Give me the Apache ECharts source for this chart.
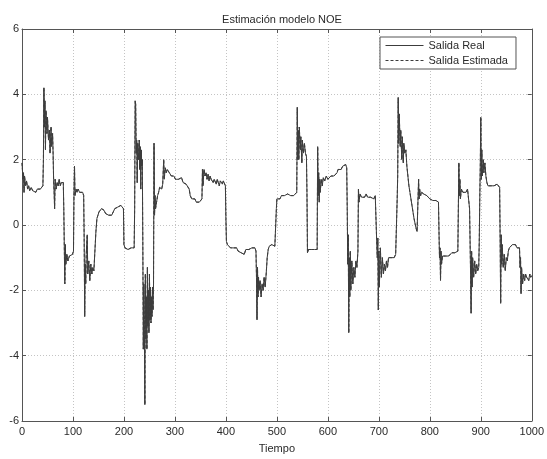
<!DOCTYPE html>
<html>
<head>
<meta charset="utf-8">
<script src="https://cdn.jsdelivr.net/npm/echarts@6/dist/echarts.min.js"></script>
<style>
html,body{margin:0;padding:0;background:#fff;}
#chart{width:547px;height:459px;}
</style>
</head>
<body>
<div id="chart"></div>
<script>
const titulo = "Estimación modelo NOE";
const nombreX = "Tiempo";
const nombresSerie = ["Salida Real", "Salida Estimada"];
const xTicks = [0, 100, 200, 300, 400, 500, 600, 700, 800, 900, 1000];
const yTicks = [-6, -4, -2, 0, 2, 4, 6];

// [tiempo, valor]
const tramo1 = [[0,1.9],[2,1.4],[3,1.6],[4,1.0],[5,1.5],[7,1.2],[9,1.35],[11,1.1],[13,1.2],[15,1.05],[18,1.15],[21,1.05],[24,1.1],[27,1.0],[30,1.1],[33,1.05],[36,1.1],[39,1.1],[41,1.2],[42,2.0],[43,4.2],[44,3.0],[45,3.8],[46,2.3],[47,3.5],[49,2.8],[50,3.3],[52,2.6],[54,2.9],[55,2.2],[57,3.0],[58,2.4],[60,2.8],[61,2.2],[62,1.4],[63,1.0],[64,0.5],[65,1.4],[67,1.1],[69,1.3],[71,1.2],[73,1.4],[75,1.2],[77,1.3],[79,1.25],[81,1.3],[82,0.5],[83,-0.7],[84,-1.8],[85,-0.6],[86,-1.2],[88,-0.9],[90,-1.1],[93,-0.95],[96,-1.0],[99,-0.9],[101,-0.8],[102,1.0],[103,1.8],[104,0.9],[106,1.1],[108,1.0],[110,1.1],[113,1.0],[116,1.05],[119,1.0],[121,0.9],
[122,-0.5],[123,-2.8],[124,-1.2],[125,-1.8],[126,-0.9],[128,-0.3],[129,-1.5],[131,-1.1],[133,-1.7],[135,-1.2],[137,-1.5],[139,-1.3],[141,-1.4],[143,-0.8],[145,-0.2],[147,0.2],[149,0.3],[151,0.4],[153,0.45],[156,0.5],[159,0.5],[161,0.45],[164,0.35],[167,0.4],[170,0.3],[173,0.35],[176,0.3],[179,0.4],[182,0.5],[185,0.45],[188,0.55],[191,0.5],[194,0.6],[197,0.6],[199,0.5]];
const tramo2 = [[200,-0.6],[202,-0.7],[205,-0.65],[208,-0.75],[211,-0.7],[214,-0.7],[217,-0.75],[220,-0.7],[221,0.5],[222,3.8],[223,3.7],[224,2.2],[225,2.6],[226,1.3],[227,2.5],[229,2.0],[230,2.6],[231,1.7],[232,2.4],[233,1.1],[234,2.3],[235,1.8],[236,2.0],[237,-0.5],[238,-3.8],[239,-1.8],[240,-2.9],[241,-5.5],[242,-1.5],[243,-3.5],[244,-2.2],[245,-3.8],[246,-1.3],[247,-3.1],[248,-2.0],[249,-3.3],[250,-1.5],[251,-2.9],[252,-1.9],[253,-3.0],[254,-2.2],[255,-2.8],[256,-1.9],[257,-2.6],[258,-1.8],[259,2.5],[260,0.3],[261,0.9],[262,0.5],[264,0.7],[266,0.9],[268,1.0],[270,1.15],[272,1.2],[274,1.1],[276,1.25],[278,2.0],[279,1.4],[281,1.75],[283,1.6],[285,1.7],[287,1.65],[289,1.6],[291,1.55],[293,1.5],[295,1.45],[298,1.5],[301,1.4],[304,1.45],[307,1.4],[310,1.35],[313,1.45],[316,1.3],[319,1.35],[322,1.25],[325,1.3],[328,1.1],[330,0.9],[333,0.8],[336,0.75],[339,0.8],[342,0.7],[345,0.75],[348,0.7],[351,0.75],[353,0.8],[354,1.7],[355,1.2],[357,1.7],[359,1.5],[361,1.6],[363,1.4],[365,1.55],[367,1.35],[369,1.5],[371,1.4],[373,1.45],[375,1.3],[377,1.4],[379,1.35],[381,1.25],[383,1.4],[385,1.3],[387,1.2],[389,1.35],[391,1.3],[393,1.25],[395,1.35],[397,1.3],[399,1.2]];
const tramo3 = [[400,0.2],[401,-0.5],[403,-0.6],[406,-0.65],[409,-0.7],[412,-0.65],[415,-0.7],[418,-0.75],[421,-0.7],[424,-0.8],[427,-0.75],[430,-0.85],[433,-0.8],[436,-0.9],[439,-0.75],[442,-0.7],[445,-0.75],[448,-0.7],[451,-0.7],[454,-0.75],[457,-0.7],[459,-0.8],[460,-1.6],[461,-2.9],[462,-1.3],[463,-2.2],[464,-1.6],[465,-2.0],[467,-1.7],[469,-2.2],[471,-1.8],[473,-2.0],[475,-1.6],[477,-1.9],[479,-1.5],[481,-1.0],[483,-0.75],[485,-0.65],[487,-0.6],[490,-0.6],[493,-0.55],[496,-0.65],[498,-0.6],[499,0.5],[500,0.8],[503,0.85],[506,0.8],[509,0.9],[512,0.85],[515,0.9],[518,0.85],[521,0.95],[524,0.9],[527,0.9],[530,0.95],[533,0.9],[536,0.95],[539,1.0],[540,3.6],[541,2.0],[542,2.9],[543,2.0],[544,3.0],[546,2.3],[547,2.7],[549,1.9],[550,2.6],[552,2.2],[554,2.5],[556,2.2],[558,2.1],[559,1.0],[560,-0.85],[562,-0.75],[565,-0.8],[568,-0.75],[571,-0.7],[574,-0.75],[577,-0.7],[579,-0.75],[580,2.4],[581,0.9],[582,1.6],[583,0.7],[584,1.4],[585,1.0],[587,1.4],[589,1.2],[591,1.45],[594,1.35],[597,1.5]];
const tramo4 = [[600,1.4],[603,1.45],[606,1.5],[609,1.45],[612,1.5],[615,1.55],[618,1.6],[620,1.7],[623,1.75],[626,1.7],[629,1.8],[632,1.75],[635,1.85],[637,1.75],[638,0.5],[639,-1.2],[640,-0.3],[641,-3.3],[642,-1.0],[643,-2.2],[644,-0.8],[645,-2.0],[647,-1.1],[649,-1.8],[651,-1.3],[653,-1.6],[655,-1.1],[657,-1.3],[659,-0.8],[660,1.1],[661,0.7],[663,0.95],[666,0.85],[669,0.9],[672,0.85],[675,0.95],[678,0.85],[681,0.9],[684,0.85],[687,0.9],[690,0.8],[693,0.9],[695,0.85],[696,-0.6],[697,-1.0],[698,-0.4],[699,-2.6],[700,-0.8],[701,-1.9],[703,-0.7],[705,-1.6],[707,-1.0],[709,-1.5],[711,-1.2],[713,-1.4],[715,-1.1],[717,-1.3],[719,-1.0],[721,-0.95],[724,-1.0],[727,-0.95],[730,-1.0],[733,-0.9],[735,-0.95],[736,0.8],[737,1.5],[738,3.9],[739,2.5],[740,3.4],[742,2.4],[743,2.9],[745,2.0],[746,2.7],[748,1.9],[749,2.5],[751,2.2],[753,2.3],[755,1.8],[757,1.5],[759,1.2],[761,1.0],[763,0.8],[765,0.6],[767,0.4],[769,0.2],[771,0.05],[773,-0.1],[775,-0.2],[777,-0.2],[778,1.4],[779,0.8],[780,1.1],[782,0.9],[784,1.0],[786,1.0],[788,0.95],[791,0.9],[794,0.9],[797,0.85]];
const tramo5 = [[800,0.8],[803,0.8],[806,0.75],[809,0.75],[812,0.75],[815,0.8],[817,0.7],[818,-0.2],[819,-1.0],[820,-0.7],[821,-1.7],[822,-0.8],[823,-1.2],[825,-0.95],[828,-1.0],[831,-0.95],[834,-0.9],[837,-0.95],[840,-0.9],[843,-0.85],[846,-0.9],[849,-0.85],[852,-0.9],[855,-0.8],[857,1.9],[858,0.9],[859,1.4],[860,0.8],[862,1.1],[865,1.0],[868,1.05],[871,1.0],[874,1.1],[877,1.05],[878,0.5],[879,-0.5],[880,-1.5],[881,-2.7],[882,-0.8],[883,-1.9],[884,-1.0],[886,-1.6],[888,-1.1],[890,-1.5],[892,-1.2],[894,-1.4],[896,-1.3],[897,-0.5],[898,0.8],[899,1.8],[900,3.3],[901,1.4],[902,2.3],[903,1.5],[905,2.0],[906,1.6],[908,1.9],[910,1.5],[912,1.3],[914,1.2],[917,1.25],[920,1.2],[923,1.25],[926,1.2],[929,1.2],[932,1.25],[935,1.2],[937,1.15],[938,-0.5],[939,-2.4],[940,-0.3],[941,-1.2],[942,-0.6],[944,-1.3],[946,-0.9],[948,-1.4],[950,-1.0],[952,-1.1],[954,-0.8],[956,-0.7],[959,-0.65],[962,-0.6],[965,-0.65],[968,-0.6],[971,-0.7],[974,-0.65],[976,-0.7],[977,-1.3],[978,-1.0],[979,-2.1],[980,-1.3],[982,-1.8],[984,-1.5],[986,-1.7],[988,-1.5],[990,-1.6],[992,-1.55],[994,-1.7],[996,-1.5],[998,-1.6],[1000,-1.55]];

const salidaReal = [].concat(tramo1, tramo2, tramo3, tramo4, tramo5);
// the estimated output overlaps the real output in the reference
const salidaEstimada = salidaReal;

const FONT = '"Liberation Sans", Arial, sans-serif';
const TXT = '#2a2a2a';
const AX = '#555';
const LINEA = '#3c3c3c';

const chart = echarts.init(document.getElementById('chart'), null, {renderer: 'canvas'});

const baseAxis = {
  axisLine: {show: true, onZero: false, lineStyle: {color: AX, width: 1}},
  axisTick: {show: true, inside: true, length: 4, lineStyle: {color: AX}},
  axisLabel: {color: TXT, fontFamily: FONT, fontSize: 11},
  splitLine: {show: false}
};

chart.setOption({
  animation: false,
  backgroundColor: '#fff',
  title: {
    text: titulo, left: 277, top: 9, textAlign: 'center',
    textStyle: {fontFamily: FONT, fontSize: 11, fontWeight: 'normal', color: TXT}
  },
  grid: {left: 22, right: 15, top: 29, bottom: 30, containLabel: false},
  legend: {
    orient: 'vertical', left: 380, top: 37,
    padding: [3, 8, 3, 5], itemGap: 4, itemWidth: 38, itemHeight: 12,
    backgroundColor: '#fff', borderColor: '#555', borderWidth: 1, borderRadius: 0,
    textStyle: {fontFamily: FONT, fontSize: 11, color: TXT},
    itemStyle: {opacity: 0},
    lineStyle: {width: 1, color: LINEA},
    data: nombresSerie
  },
  xAxis: [
    Object.assign({}, baseAxis, {
      type: 'value', min: 0, max: 1000, interval: 100, position: 'bottom',
      name: nombreX, nameLocation: 'middle', nameGap: 22,
      nameTextStyle: {fontFamily: FONT, fontSize: 11, color: TXT},
      axisLabel: {color: TXT, fontFamily: FONT, fontSize: 11, margin: 5,
        formatter: v => xTicks.includes(v) ? String(v) : ''},
      splitLine: {show: true, lineStyle: {color: '#c4c4c4', type: [1, 2], width: 1}}
    }),
    Object.assign({}, baseAxis, {
      type: 'value', min: 0, max: 1000, interval: 100, position: 'top',
      axisLabel: {show: false}
    })
  ],
  yAxis: [
    Object.assign({}, baseAxis, {
      type: 'value', min: -6, max: 6, interval: 2, position: 'left',
      axisLabel: {color: TXT, fontFamily: FONT, fontSize: 11, margin: 3,
        formatter: v => yTicks.includes(v) ? String(v) : ''},
      splitLine: {show: true, lineStyle: {color: '#c4c4c4', type: [1, 2], width: 1}}
    }),
    Object.assign({}, baseAxis, {
      type: 'value', min: -6, max: 6, interval: 2, position: 'right',
      axisLabel: {show: false}
    })
  ],
  series: [
    {
      name: nombresSerie[0], type: 'line', data: salidaReal,
      xAxisIndex: 0, yAxisIndex: 0,
      showSymbol: false, symbol: 'none',
      lineStyle: {color: LINEA, width: 1}, itemStyle: {color: LINEA}
    },
    {
      name: nombresSerie[1], type: 'line', data: salidaEstimada,
      xAxisIndex: 0, yAxisIndex: 0,
      showSymbol: false, symbol: 'none',
      lineStyle: {color: LINEA, width: 1, type: [3, 2]}, itemStyle: {color: LINEA}
    }
  ]
});
</script>
</body>
</html>
